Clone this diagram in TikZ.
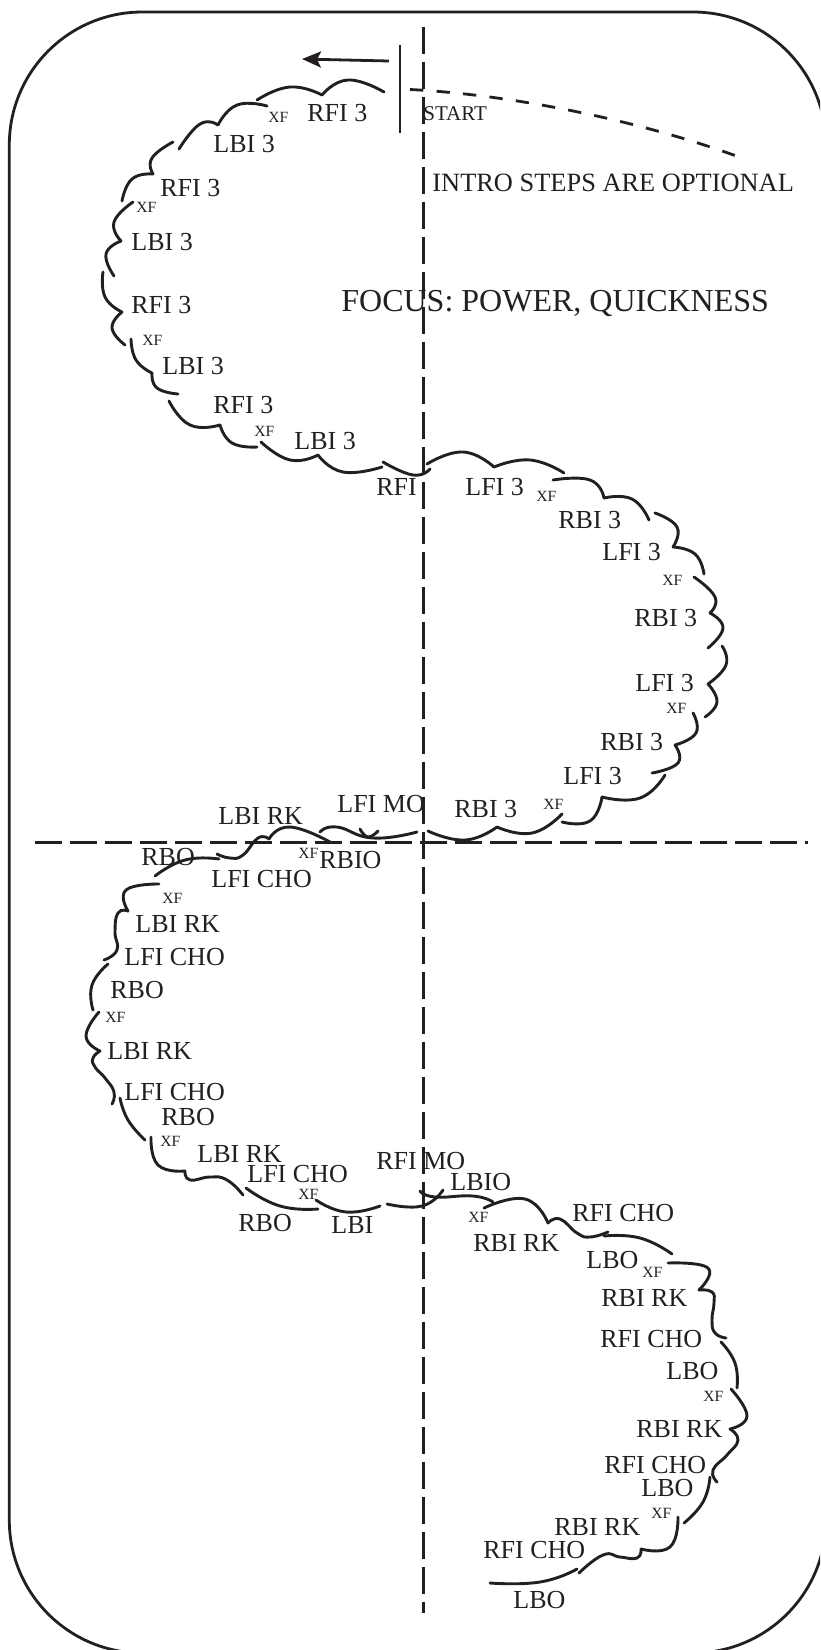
\documentclass[tikz,border=0pt]{standalone}
\usepackage{fontspec}
\setmainfont{Liberation Serif}
\usetikzlibrary{arrows.meta}
\definecolor{ink}{HTML}{231F20}
\tikzset{
  trace/.style={draw=ink,line width=1.45pt,line cap=round},
  axis/.style={draw=ink,line width=1.5pt,dash pattern=on 13.3pt off 4.2pt},
  intro/.style={draw=ink,line width=1.4pt,dash pattern=on 6.65pt off 6.65pt},
  lab/.style={anchor=base west,inner sep=0pt,text=ink,font=\fontsize{13}{13}\selectfont},
  xf/.style={anchor=base west,inner sep=0pt,text=ink,font=\fontsize{7.8}{8}\selectfont},
  st/.style={anchor=base west,inner sep=0pt,text=ink,font=\fontsize{10.5}{10.5}\selectfont},
  big/.style={anchor=base west,inner sep=0pt,text=ink,font=\fontsize{16}{16}\selectfont}
}
\newcommand{\lobe}[1]{\draw[trace] plot[smooth,tension=.85] coordinates {#1};}
\begin{document}
\begin{tikzpicture}[x=.5pt,y=-.5pt]
\useasboundingbox (0,0) rectangle (820,1650);
\begin{scope}
\clip (0,0) rectangle (820,1650);
\draw[ink,line width=1.4pt,rounded corners=66.5pt] (9.3,12) rectangle (826,1653);
\end{scope}
% axes
\coordinate (vtop) at (423,27); \coordinate (vbot) at (423,1613);
\coordinate (hl) at (35,842); \coordinate (hr) at (808,842);
\draw[axis] (vtop) -- (vbot);
\draw[axis] (hl) -- (hr);
% start bar, arrow, intro curve
\coordinate (bar1) at (400,45); \coordinate (bar2) at (400,133);
\draw[ink,line width=1.4pt] (bar1) -- (bar2);
\coordinate (atail) at (389,61); \coordinate (ahead) at (302,59);
\draw[ink,line width=1.4pt,-{Stealth[length=9.5pt,width=8pt,inset=2pt]}] (atail) -- (ahead);
\coordinate (ia) at (410,89.5); \coordinate (ib) at (735,155.5);
\draw[intro] (ia) .. controls (500,94) and (625,116) .. (ib);
% top left loop
\lobe{(384,92) (348,80) (322,95)}
\lobe{(322,95) (290,87) (257,100)}
\lobe{(267,106) (237,105) (218,125)}
\lobe{(218,125) (200,124) (179,149)}
\lobe{(173,142) (152,158) (153,174)}
\lobe{(153,174) (132,179) (122,201)}
\lobe{(133,202) (114,222) (121,241)}
\lobe{(121,241) (106,254) (114,276)}
\lobe{(103,272) (105,297) (122,312)}
\lobe{(122,312) (112,328) (125,345)}
\lobe{(131,339) (136,360) (152,373)}
\lobe{(152,373) (157,388) (178,394)}
\lobe{(169,401) (190,425) (220,425)}
\lobe{(220,425) (232,443) (257,447)}
\lobe{(261,442) (290,460) (318,455)}
\lobe{(318,455) (343,472) (382,467)}
\lobe{(383,462) (413,475) (430,469)}
% right loop
\lobe{(427,464) (463,452) (494,467)}
\lobe{(494,467) (530,460) (564,473)}
\lobe{(553,480) (590,480) (604,498)}
\lobe{(604,498) (632,499) (649,520)}
\lobe{(655,513) (677,527) (673,547)}
\lobe{(673,547) (695,554) (704,574)}
\lobe{(694,577) (715,597) (710,613)}
\lobe{(710,613) (723,628) (708,648)}
\lobe{(722,646) (726,665) (708,684)}
\lobe{(708,684) (717,702) (705,717)}
\lobe{(693,713) (696,733) (675,745)}
\lobe{(675,745) (678,763) (652,773)}
\lobe{(665,775) (640,798) (602,797)}
\lobe{(602,797) (590,821) (562,822)}
\lobe{(562,814) (532,833) (497,827)}
\lobe{(497,827) (465,840) (428,831)}
% centre
\lobe{(417,832) (373,838) (337,827) (320,832)}
\lobe{(360,829) (368,837) (378,831)}
\lobe{(330,842) (290,827) (269,839)}
\lobe{(269,839) (258,838) (243,855) (230,858) (217,854)}
\lobe{(219,859) (185,860) (155,876)}
% left loop
\lobe{(159,884) (126,890) (128,911)}
\lobe{(128,911) (118,913) (115,932) (117,950) (104,960)}
\lobe{(108,964) (92,985) (93,1010)}
\lobe{(99,1012) (86,1036) (100,1051)}
\lobe{(100,1051) (93,1058) (95,1067) (105,1078) (114,1092) (112,1104)}
\lobe{(120,1098) (128,1120) (145,1140)}
\lobe{(151,1137) (158,1165) (185,1171)}
\lobe{(185,1171) (190,1180) (210,1177) (227,1180) (243,1195)}
\lobe{(246,1188) (280,1206) (318,1209)}
\lobe{(316,1200) (346,1212) (380,1206)}
\lobe{(387,1204) (422,1206) (443,1190)}
% lower right loop
\lobe{(420,1191) (435,1197) (473,1196) (493,1202)}
\lobe{(484,1208) (525,1199) (548,1223)}
\lobe{(548,1223) (560,1219) (577,1233) (590,1237) (608,1232)}
\lobe{(604,1236) (640,1238) (672,1254)}
\lobe{(668,1263) (708,1268) (699,1290)}
\lobe{(699,1290) (712,1292) (714,1303) (712,1320) (715,1333) (726,1338)}
\lobe{(721,1342) (735,1363) (737,1388)}
\lobe{(731,1389) (747,1416) (730,1429)}
\lobe{(730,1429) (738,1440) (727,1455) (713,1470) (717,1482)}
\lobe{(710,1477) (703,1502) (684,1523)}
\lobe{(678,1517) (670,1547) (641,1549)}
\lobe{(641,1549) (637,1558) (620,1557) (603,1555) (579,1573)}
\lobe{(577,1569) (540,1582) (490,1583)}
% texts
\node[lab] (t1) at (307,121) {RFI 3};
\node[xf] (x1) at (268,122) {XF};
\node[lab] (t2) at (213,152) {LBI 3};
\node[lab] (t3) at (160,196) {RFI 3};
\node[xf] (x2) at (136,212) {XF};
\node[lab] (t4) at (131,250) {LBI 3};
\node[lab] (t5) at (131,313) {RFI 3};
\node[xf] (x3) at (142,345) {XF};
\node[lab] (t6) at (162,374) {LBI 3};
\node[lab] (t7) at (213,413) {RFI 3};
\node[xf] (x4) at (254,436) {XF};
\node[lab] (t8) at (294,449) {LBI 3};
\node[lab] (t9) at (376,495) {RFI};
\node[lab] (t10) at (465,495) {LFI 3};
\node[xf] (x5) at (536,501) {XF};
\node[lab] (t11) at (558,528) {RBI 3};
\node[lab] (t12) at (602,560) {LFI 3};
\node[xf] (x6) at (662,585) {XF};
\node[lab] (t13) at (634,626) {RBI 3};
\node[lab] (t14) at (635,691) {LFI 3};
\node[xf] (x7) at (666,713) {XF};
\node[lab] (t15) at (600,750) {RBI 3};
\node[lab] (t16) at (563,784) {LFI 3};
\node[xf] (x8) at (543,809) {XF};
\node[lab] (t17) at (454,817) {RBI 3};
\node[lab] (t18) at (337,812) {LFI MO};
\node[lab] (t19) at (218,824) {LBI RK};
\node[lab] (t20) at (141,865) {RBO};
\node[xf] (x9) at (298,858) {XF};
\node[lab] (t21) at (319,868) {RBIO};
\node[lab] (t22) at (211,887) {LFI CHO};
\node[xf] (x10) at (162,903) {XF};
\node[lab] (t23) at (135,932) {LBI RK};
\node[lab] (t24) at (124,965) {LFI CHO};
\node[lab] (t25) at (110,998) {RBO};
\node[xf] (x11) at (105,1022) {XF};
\node[lab] (t26) at (107,1059) {LBI RK};
\node[lab] (t27) at (124,1100) {LFI CHO};
\node[lab] (t28) at (161,1125) {RBO};
\node[xf] (x12) at (160,1146) {XF};
\node[lab] (t29) at (197,1162) {LBI RK};
\node[lab] (t30) at (247,1182) {LFI CHO};
\node[lab] (t31) at (376,1169) {RFI MO};
\node[xf] (x13) at (298,1199) {XF};
\node[lab] (t32) at (238,1231) {RBO};
\node[lab] (t33) at (331,1233) {LBI};
\node[lab] (t34) at (450,1190) {LBIO};
\node[xf] (x14) at (468,1222) {XF};
\node[lab] (t35) at (473,1251) {RBI RK};
\node[lab] (t36) at (572,1221) {RFI CHO};
\node[lab] (t37) at (586,1268) {LBO};
\node[xf] (x15) at (642,1277) {XF};
\node[lab] (t38) at (601,1306) {RBI RK};
\node[lab] (t39) at (600,1347) {RFI CHO};
\node[lab] (t40) at (666,1379) {LBO};
\node[xf] (x16) at (703,1401) {XF};
\node[lab] (t41) at (636,1437) {RBI RK};
\node[lab] (t42) at (604,1473) {RFI CHO};
\node[lab] (t43) at (641,1496) {LBO};
\node[xf] (x17) at (651,1518) {XF};
\node[lab] (t44) at (554,1535) {RBI RK};
\node[lab] (t45) at (483,1558) {RFI CHO};
\node[lab] (t46) at (513,1608) {LBO};
\node[st] (start) at (423,120) {START};
\node[lab,font=\fontsize{13.2}{13.2}\selectfont] (intro) at (432,191) {INTRO STEPS ARE OPTIONAL};
\node[big] (focus) at (341,311) {FOCUS: POWER, QUICKNESS};
\end{tikzpicture}
\end{document}
